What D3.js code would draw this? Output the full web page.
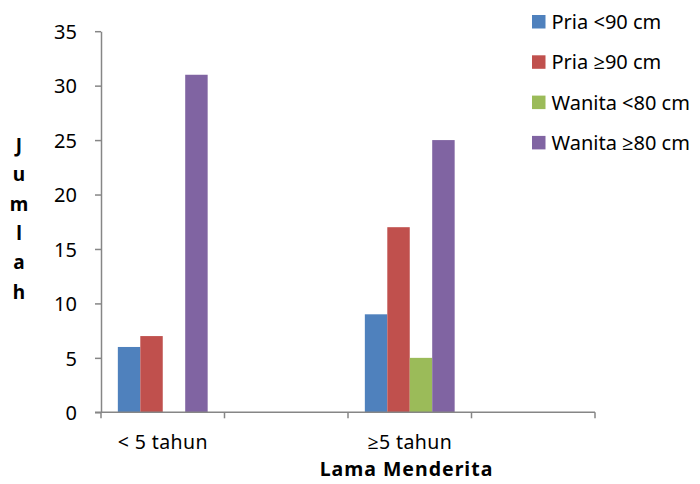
<!DOCTYPE html>
<html>
<head>
<meta charset="utf-8">
<script src="https://cdn.jsdelivr.net/npm/d3@7"></script>
<style>
  html, body { margin: 0; padding: 0; background: #fff; }
  svg { display: block; }
  text { font-family: "Noto Sans", "Open Sans", sans-serif; fill: #000; }
</style>
</head>
<body>
<svg id="chart" width="700" height="484"></svg>
<script>
// Category slots on the x axis (two slots are left blank)
const categories = ["< 5 tahun", "", "≥5 tahun", ""];
const seriesNames = ["Pria <90 cm", "Pria ≥90 cm", "Wanita <80 cm", "Wanita ≥80 cm"];
const seriesColors = ["#4F81BD", "#C0504D", "#9BBB59", "#8064A2"];
const priaUnder90 = [6, null, 9, null];
const priaOver90 = [7, null, 17, null];
const wanitaUnder80 = [0, null, 5, null];
const wanitaOver80 = [31, null, 25, null];
const yTicks = [0, 5, 10, 15, 20, 25, 30, 35];
const yTitle = "Jumlah";
const xTitle = "Lama Menderita";

const seriesValues = [priaUnder90, priaOver90, wanitaUnder80, wanitaOver80];

const svg = d3.select("#chart");
const plotLeft = 101, plotRight = 595, plotTop = 31.2, plotBottom = 412.3;
const axisColor = "#868686";

const x = d3.scaleBand()
  .domain(d3.range(categories.length))
  .range([plotLeft, plotRight])
  .paddingInner(0).paddingOuter(0);

// clustered bars: gap of 1.5 bar widths split on both sides of each cluster
const inner = d3.scaleBand()
  .domain(d3.range(seriesNames.length))
  .range([0, x.bandwidth()])
  .paddingInner(0)
  .paddingOuter(0.75);

const y = d3.scaleLinear().domain([0, 35]).range([plotBottom, plotTop]);

// bars
seriesValues.forEach((vals, si) => {
  svg.append("g")
    .selectAll("rect")
    .data(vals.map((v, ci) => ({ v, ci })).filter(d => d.v !== null && d.v > 0))
    .join("rect")
    .attr("x", d => x(d.ci) + inner(si))
    .attr("width", inner.bandwidth())
    .attr("y", d => y(d.v))
    .attr("height", d => y(0) - y(d.v))
    .attr("fill", seriesColors[si]);
});

// y axis
const yAxis = svg.append("g")
  .attr("transform", `translate(${plotLeft},0)`)
  .call(d3.axisLeft(y).tickValues(yTicks).tickSize(6).tickPadding(18).tickSizeOuter(0));
yAxis.select(".domain").attr("stroke", axisColor).attr("stroke-width", 1.5);
yAxis.selectAll(".tick line").attr("stroke", axisColor).attr("stroke-width", 1.5);
yAxis.selectAll(".tick text")
  .attr("font-size", 20)
  .attr("font-family", "Noto Sans")
  .attr("fill", "#000")
  .attr("dy", "0.36em");

// x axis with tick marks at category boundaries
const xAxisG = svg.append("g").attr("transform", `translate(0,${plotBottom})`);
xAxisG.append("line")
  .attr("x1", plotLeft - 6).attr("x2", plotRight)
  .attr("stroke", axisColor).attr("stroke-width", 1.5);
const boundaries = d3.range(categories.length + 1).map(i =>
  i < categories.length ? x(i) : x(categories.length - 1) + x.bandwidth());
xAxisG.selectAll("line.tk")
  .data(boundaries)
  .join("line")
  .attr("class", "tk")
  .attr("x1", d => d).attr("x2", d => d)
  .attr("y1", 0).attr("y2", 6)
  .attr("stroke", axisColor).attr("stroke-width", 1.5);
xAxisG.selectAll("text.cat")
  .data(categories.map((c, i) => ({ c, i })).filter(d => d.c))
  .join("text")
  .attr("class", "cat")
  .attr("x", d => x(d.i) + x.bandwidth() / 2)
  .attr("y", 449.5 - plotBottom)
  .attr("text-anchor", "middle")
  .attr("font-size", 19.5)
  .attr("letter-spacing", 0.4)
  .text(d => d.c);

// x axis title
svg.append("text")
  .attr("x", 406.5).attr("y", 476)
  .attr("text-anchor", "middle")
  .attr("font-size", 19.5)
  .attr("font-weight", "bold")
  .attr("letter-spacing", 1)
  .text(xTitle);

// y axis title, one letter per line
svg.append("g").selectAll("text")
  .data(yTitle.split(""))
  .join("text")
  .attr("x", 19)
  .attr("y", (d, i) => 152 + i * 29.3)
  .attr("text-anchor", "middle")
  .attr("font-size", 19)
  .attr("font-weight", "bold")
  .text(d => d);

// legend
const legend = svg.append("g");
seriesNames.forEach((name, i) => {
  const cy = 22 + i * 40.3;
  legend.append("rect")
    .attr("x", 532).attr("y", cy - 7)
    .attr("width", 13.5).attr("height", 13.5)
    .attr("fill", seriesColors[i]);
  legend.append("text")
    .attr("x", 551.5).attr("y", cy + 7)
    .attr("font-size", 20)
    .text(name);
});
</script>
</body>
</html>
